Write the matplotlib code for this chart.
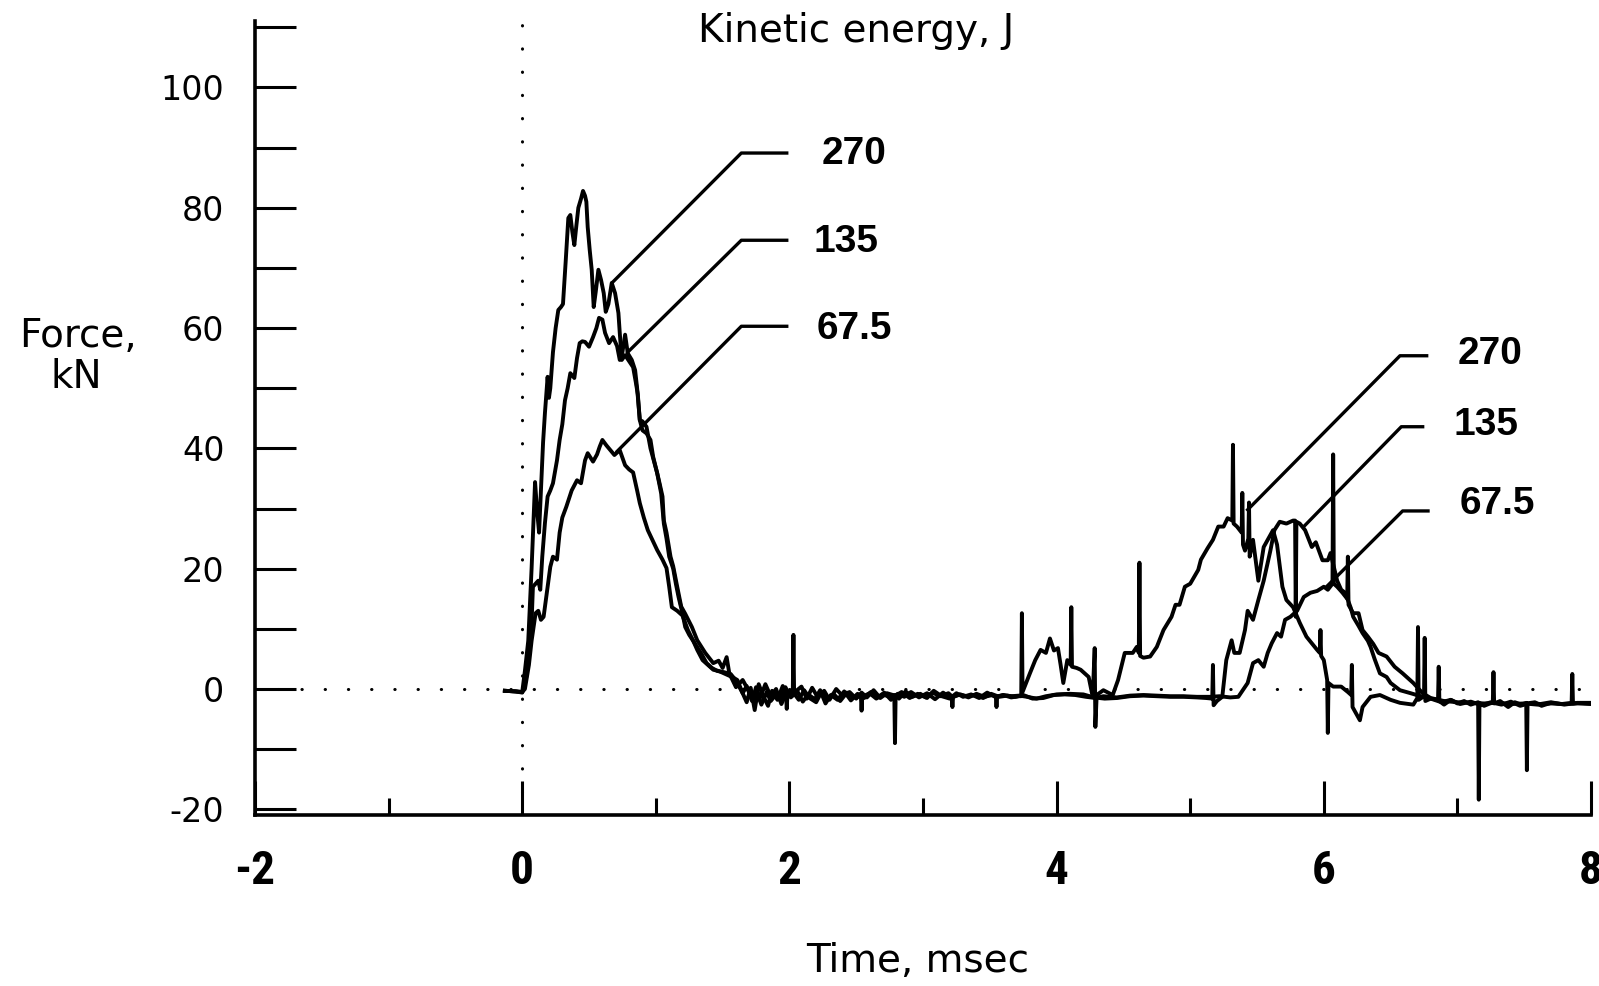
import matplotlib
matplotlib.use("Agg")
import matplotlib.pyplot as plt
from matplotlib.ticker import MultipleLocator

# force traces (kN) vs time (msec)
t270 = [-0.13, -0.05, 0.0, 0.02, 0.045, 0.07, 0.096, 0.11, 0.126, 0.14, 0.156, 0.17, 0.19, 0.2, 0.21,
        0.23, 0.25, 0.27, 0.29, 0.305, 0.325, 0.345, 0.36, 0.375, 0.39, 0.405, 0.42, 0.44, 0.455, 0.47,
        0.48, 0.49, 0.505, 0.52, 0.535, 0.55, 0.57, 0.59, 0.61, 0.625, 0.645, 0.67, 0.695, 0.72, 0.73,
        0.745, 0.77, 0.8, 0.83, 0.85, 0.865, 0.88, 0.9, 0.93, 0.96, 0.99, 1.01, 1.04, 1.06, 1.08, 1.1,
        1.13, 1.15, 1.17, 1.2, 1.22, 1.25, 1.28, 1.31, 1.35, 1.39, 1.43, 1.47, 1.52, 1.57, 1.61, 1.65,
        1.68, 1.72, 1.75, 1.78, 1.82, 1.86, 1.9, 1.94, 1.98, 2.025, 2.03, 2.035, 2.09, 2.13, 2.17, 2.21,
        2.26, 2.3, 2.35, 2.4, 2.45, 2.5, 2.54, 2.58, 2.63, 2.68, 2.73, 2.79, 2.82, 2.87, 2.92, 2.98,
        3.03, 3.08, 3.14, 3.2, 3.25, 3.3, 3.36, 3.42, 3.48, 3.54, 3.6, 3.66, 3.72, 3.735, 3.74, 3.745,
        3.8, 3.84, 3.88, 3.92, 3.95, 3.98, 4.01, 4.03, 4.05, 4.08, 4.105, 4.11, 4.115, 4.15, 4.18, 4.24,
        4.27, 4.285, 4.29, 4.3, 4.35, 4.42, 4.46, 4.51, 4.57, 4.6, 4.615, 4.62, 4.625, 4.65, 4.7, 4.75,
        4.8, 4.86, 4.89, 4.92, 4.96, 5.0, 5.06, 5.08, 5.13, 5.17, 5.21, 5.25, 5.28, 5.315, 5.32, 5.325,
        5.35, 5.385, 5.39, 5.395, 5.41, 5.435, 5.44, 5.445, 5.47, 5.51, 5.55, 5.58, 5.62, 5.65, 5.69,
        5.72, 5.77, 5.82, 5.87, 5.95, 5.97, 5.975, 5.98, 6.0, 6.025, 6.03, 6.035, 6.07, 6.13, 6.18,
        6.205, 6.21, 6.215, 6.24, 6.27, 6.29, 6.35, 6.42, 6.5, 6.57, 6.67, 6.7, 6.705, 6.71, 6.75,
        6.755, 6.76, 6.8, 6.855, 6.86, 6.865, 6.9, 6.95, 7.0, 7.05, 7.1, 7.155, 7.16, 7.165, 7.2,
        7.265, 7.27, 7.275, 7.32, 7.38, 7.43, 7.48, 7.515, 7.52, 7.525, 7.58, 7.63, 7.7, 7.78, 7.855,
        7.86, 7.865, 7.92, 8.0]
f270 = [-0.3, -0.4, -0.5, 3, 8, 20, 34.4, 30, 26, 33, 41, 45.9, 51.9, 48.4, 50,
        56, 60, 63, 63.5, 64, 71, 78.3, 78.8, 76, 73.8, 77, 80, 81.5, 82.8, 82,
        81, 76.8, 73, 69.7, 63.5, 66, 69.7, 68, 65.8, 62.7, 64, 67.5, 65.8, 62.5, 59.2,
        54.7, 55.5, 54.5, 53.5, 51, 49, 44.7, 44.5, 43.6, 40, 37.5, 35.9, 32.5, 27.5, 25, 22,
        20, 17.5, 15.3, 12.5, 10.3, 9, 8, 6.5, 4.8, 4, 3.2, 3, 2.5, 2, 1.5, -0.7,
        0.5, -2, 0.3, -1.5, 0.8, -1.2, 0, -2.5, -0.5, -0.8, 9, -0.6, 0.4, -1.6, 0.2, -1.3,
        -0.3, -1.8, 0, -1.2, -0.5, -1.6, -0.6, -1.4, -0.2, -1.5, -0.7, -1.1, -1.6, -0.4, -1.3, -0.8,
        -1.5, -0.3, -1.2, -1.6, -0.7, -1.3, -0.9, -1.5, -0.6, -1.3, -1.0, -1.4, -1.2, -1.2, 12.6, -0.5,
        2.6, 4.8, 6.5, 6, 8.4, 6.4, 6.8, 4, 1, 4.8, 4, 13.6, 3.7, 3.5, 3.2, 2,
        -1.3, 6.8, -6.3, -1, -0.2, -1, 1.5, 6, 6, 7, 6, 21, 5.5, 5.2, 5.4, 7,
        9.8, 12, 14, 14, 17, 17.5, 19.8, 21.5, 23.4, 24.8, 27, 27, 28.4, 28, 40.6, 27.5,
        27, 26, 32.6, 24, 23, 25, 31, 22, 24.8, 18, 23.6, 24.8, 26.4, 24, 17,
        14.8, 13.6, 11, 8.7, 6.5, 6, 9.8, 5.5, 4.8, 1.5, -7.3, 1, 0.4, 0.4, -0.5,
        -1, 4, -3, -4, -5.2, -3, -1.3, -1, -1.8, -2.3, -2.6, -1.5, 10.3, -1.8, -1.2,
        8.5, -2, -1.6, -1.8, 3.7, -2, -2.6, -1.8, -2.4, -2.0, -2.6, -2.2, -18.4, -2.3, -2.8,
        -2.2, 2.8, -2.4, -2.0, -3.0, -2.2, -2.6, -2.3, -13.5, -2.4, -2.2, -2.8, -2.3, -2.5, -2.3,
        2.5, -2.4, -2.3, -2.3]

t135 = [-0.13, -0.05, 0.0, 0.03, 0.07, 0.08, 0.1, 0.12, 0.135, 0.15, 0.17, 0.19, 0.21, 0.23, 0.26,
        0.28, 0.3, 0.32, 0.34, 0.36, 0.39, 0.41, 0.43, 0.45, 0.47, 0.5, 0.53, 0.555, 0.575, 0.6,
        0.62, 0.65, 0.68, 0.71, 0.73, 0.75, 0.77, 0.79, 0.82, 0.845, 0.86, 0.88, 0.9, 0.93, 0.96,
        0.98, 1.01, 1.03, 1.05, 1.06, 1.08, 1.11, 1.13, 1.16, 1.19, 1.22, 1.27, 1.31, 1.37, 1.43,
        1.47, 1.5, 1.53, 1.55, 1.6, 1.65, 1.7, 1.74, 1.77, 1.8, 1.84, 1.87, 1.91, 1.95, 1.975, 1.98,
        1.985, 2.02, 2.07, 2.11, 2.15, 2.2, 2.24, 2.28, 2.33, 2.38, 2.43, 2.48, 2.535, 2.54, 2.545,
        2.6, 2.65, 2.7, 2.75, 2.785, 2.79, 2.795, 2.84, 2.9, 2.96, 3.02, 3.07, 3.13, 3.19, 3.215,
        3.22, 3.225, 3.28, 3.34, 3.4, 3.46, 3.52, 3.545, 3.55, 3.555, 3.6, 3.66, 3.72, 3.78, 3.85,
        3.92, 4.0, 4.1, 4.2, 4.28, 4.36, 4.45, 4.55, 4.65, 4.75, 4.85, 4.95, 5.05, 5.12, 5.165,
        5.17, 5.175, 5.2, 5.24, 5.27, 5.31, 5.33, 5.37, 5.41, 5.43, 5.47, 5.51, 5.55, 5.58, 5.6,
        5.63, 5.67, 5.72, 5.77, 5.785, 5.79, 5.795, 5.82, 5.86, 5.91, 5.94, 5.99, 6.03, 6.05, 6.1,
        6.13, 6.16, 6.2, 6.22, 6.26, 6.29, 6.33, 6.35, 6.38, 6.42, 6.47, 6.5, 6.57, 6.65, 6.74,
        6.8, 6.88, 6.95, 7.02, 7.1, 7.18, 7.25, 7.33, 7.4, 7.47, 7.55, 7.62, 7.7, 7.8, 7.9, 8.0]
f135 = [-0.3, -0.4, -0.6, 2, 11, 17, 17.5, 18, 16.5, 22, 27.6, 32, 33, 34.2, 38,
        41.4, 44, 48, 50, 52.5, 51.7, 55, 57.5, 57.8, 57.7, 56.9, 58.5, 60, 61.7, 61.4,
        59.2, 57.5, 58.5, 57, 54.7, 56, 58.9, 55.8, 54.7, 53, 50, 44.7, 43, 42.5, 41.4,
        38.6, 35.9, 34, 32, 28, 26, 22, 20.4, 17, 13.7, 12.5, 10.3, 8.1, 6, 4.3,
        4.7, 3.5, 5.3, 2.6, 0.3, 1.5, -0.5, -2.5, 0.8, -1, -2.8, -0.3, -1.8, 0.5, -1, -3.3,
        -1, -0.3, -1.8, -0.2, -1.5, -2.2, -0.5, -1.7, -0.8, -2.0, -0.6, -1.4, -1.2, -3.6, -1.3,
        -0.7, -1.6, -0.9, -1.3, -1.0, -9, -1.1, -0.5, -1.5, -0.8, -1.4, -0.6, -1.2, -0.7, -1.2,
        -3, -1.3, -0.9, -1.4, -0.8, -1.3, -1.0, -1.3, -3, -1.3, -1.0, -1.2, -1.1, -1.3, -1.6,
        -1.2, -0.9, -0.8, -0.9, -1.4, -1.6, -1.5, -1.2, -1.1, -1.2, -1.3, -1.3, -1.4, -1.5, -1.6,
        4, -2.7, -2, -1.3, 4.8, 8.1, 6, 6, 9.8, 13, 11.5, 14.8, 18, 21, 23,
        26.4, 27.8, 27.5, 28, 28, 12, 27.8, 27.5, 26.4, 23.6, 24.4, 21.4, 21.4, 22.6, 18,
        16.5, 16, 13.6, 12, 10.5, 9.3, 8, 7, 5, 2.6, 2, 1, -0.2, -0.7, -1.3,
        -1.6, -2.2, -1.8, -2.5, -2.1, -2.7, -2.2, -2.6, -2.1, -2.8, -2.3, -2.5, -2.2, -2.6, -2.3, -2.4]

t675 = [-0.13, -0.05, 0.0, 0.02, 0.05, 0.07, 0.1, 0.12, 0.14, 0.16, 0.18, 0.21, 0.23, 0.26, 0.28,
        0.3, 0.33, 0.37, 0.41, 0.44, 0.47, 0.49, 0.53, 0.56, 0.58, 0.6, 0.63, 0.66, 0.69, 0.73,
        0.77, 0.8, 0.83, 0.86, 0.88, 0.91, 0.94, 0.97, 1.01, 1.05, 1.08, 1.1, 1.12, 1.16, 1.2,
        1.24, 1.28, 1.34, 1.38, 1.42, 1.46, 1.51, 1.56, 1.6, 1.65, 1.68, 1.71, 1.74, 1.76, 1.79,
        1.83, 1.86, 1.9, 1.93, 1.97, 2.01, 2.06, 2.1, 2.14, 2.19, 2.23, 2.27, 2.31, 2.36, 2.41,
        2.46, 2.51, 2.56, 2.61, 2.66, 2.71, 2.76, 2.81, 2.86, 2.91, 2.97, 3.03, 3.09, 3.15, 3.21,
        3.27, 3.33, 3.39, 3.45, 3.51, 3.57, 3.63, 3.69, 3.75, 3.82, 3.9, 3.98, 4.06, 4.14, 4.22,
        4.29, 4.35, 4.45, 4.55, 4.65, 4.75, 4.85, 4.95, 5.05, 5.15, 5.22, 5.3, 5.36, 5.43, 5.47,
        5.51, 5.55, 5.58, 5.61, 5.65, 5.68, 5.71, 5.75, 5.8, 5.85, 5.9, 5.95, 6.0, 6.03, 6.065,
        6.07, 6.075, 6.1, 6.14, 6.175, 6.18, 6.185, 6.22, 6.26, 6.29, 6.33, 6.37, 6.41, 6.47, 6.53,
        6.59, 6.67, 6.74, 6.8, 6.9, 7.0, 7.1, 7.2, 7.3, 7.4, 7.5, 7.6, 7.7, 7.8, 7.9, 8.0]
f675 = [-0.3, -0.4, -0.5, 0, 4, 8, 12.6, 13, 11.5, 12, 15.3, 20.3, 22, 21.5, 26,
        28.5, 30.3, 33, 34.7, 34.2, 38, 39.2, 37.8, 39, 40.3, 41.4, 40.5, 39.7, 38.9, 39.7,
        37.2, 36.5, 36, 33, 30.9, 28.5, 26.4, 25, 23.1, 21.5, 20.1, 17, 13.6, 13, 12.2,
        9.8, 8, 5.9, 4.3, 3.5, 3, 2.8, 2.5, 1.4, -0.7, -2.2, 0.2, -3.5, -0.8, -2.6,
        -0.5, -2, -0.9, -1.8, 0.3, -1.4, -0.4, -2.1, -0.9, -1.7, -0.2, -2.4, -1.0, -1.8, -0.4,
        -1.9, -0.8, -1.5, -0.5, -1.4, -0.6, -1.8, -0.8, -1.3, -0.5, -1.4, -0.7, -1.7, -0.6, -1.5,
        -0.9, -1.2, -1.0, -1.5, -0.8, -1.3, -1.1, -1.3, -1.0, -1.6, -1.5, -1.0, -0.9, -1.0, -1.3,
        -1.5, -1.2, -1.4, -1.1, -1.0, -1.1, -1.2, -1.2, -1.3, -1.3, -1.2, -1.4, -1.3, 1, 4.3,
        4.8, 3.7, 6, 7.6, 9.3, 8.7, 11.5, 12, 13, 15.3, 16, 16.3, 17, 16.5, 17.5,
        39, 17.5, 17, 16, 15, 22, 14, 12.6, 12.6, 9.8, 8.7, 7.5, 6, 5.4, 3.7,
        2.6, 1, -0.7, -1.5, -2, -2.2, -2.3, -2.4, -2.3, -2.5, -2.4, -2.6, -2.4, -2.5, -2.4, -2.5]

# leader labels: text anchor, elbow and the point on the trace
lab_text = ["270", "135", "67.5", "270", "135", "67.5"]
lab_x = [2.24, 2.18, 2.2, 7.0, 6.97, 7.02]
lab_y = [89.0, 74.3, 59.8, 55.7, 43.9, 30.8]
elbow_x = [1.64, 1.64, 1.64, 6.57, 6.58, 6.59]
end_x = [1.98, 1.98, 1.98, 6.77, 6.74, 6.78]
lead_y = [89.1, 74.6, 60.3, 55.4, 43.6, 29.6]
tip_x = [0.68, 0.79, 0.71, 5.43, 5.85, 6.02]
tip_y = [67.7, 56.0, 39.5, 29.8, 27.0, 17.0]

fig = plt.figure(figsize=(15.99, 9.86), dpi=100)
ax = fig.add_axes([0.1595, 0.1731, 0.8355, 0.8053])
ax.set_xlim(-2, 8)
ax.set_ylim(-21, 111)

dots = dict(color="black", lw=2.2, linestyle=(0, (0.1, 7.5)), dash_capstyle="round", zorder=1)
ax.axhline(0, **dots)
ax.axvline(0, **dots)

for t, f in [(t675, f675), (t135, f135), (t270, f270)]:
    ax.plot(t, f, color="black", lw=2.8, solid_joinstyle="round", zorder=3)

for i in range(len(lab_text)):
    ax.plot([tip_x[i], elbow_x[i], end_x[i]], [tip_y[i], lead_y[i], lead_y[i]],
            color="black", lw=2.4, zorder=3)
    ax.text(lab_x[i], lab_y[i], lab_text[i], fontsize=28, fontweight="bold",
            family=["Liberation Sans", "DejaVu Sans"], ha="left", va="center")

ax.text(2.5, 109.4, "Kinetic energy, J", fontsize=28, ha="center", va="center",
        family="DejaVu Sans", clip_on=False)

for side in ["top", "right"]:
    ax.spines[side].set_visible(False)
for side in ["left", "bottom"]:
    ax.spines[side].set_linewidth(2.6)

ax.xaxis.set_major_locator(MultipleLocator(2))
ax.xaxis.set_minor_locator(MultipleLocator(1))
ax.yaxis.set_major_locator(MultipleLocator(20))
ax.yaxis.set_minor_locator(MultipleLocator(10))
ax.tick_params(axis="x", which="major", direction="in", length=24.5, width=2.2, pad=24)
ax.tick_params(axis="x", which="minor", direction="in", length=12, width=2.2)
ax.tick_params(axis="y", which="both", direction="in", length=29.5, width=2.2, pad=22)

ax.set_yticks([-20, 0, 20, 40, 60, 80, 100])
ax.set_yticklabels(["-20", "0", "20", "40", "60", "80", "100"])
for lbl in ax.get_yticklabels():
    lbl.set_fontsize(24)
    lbl.set_family("DejaVu Sans")
ax.set_xticks([-2, 0, 2, 4, 6, 8])
ax.set_xticklabels(["-2", "0", "2", "4", "6", "8"])
for lbl in ax.get_xticklabels():
    lbl.set_fontsize(34)
    lbl.set_fontweight("bold")
    lbl.set_family(["Roboto Condensed", "Liberation Sans"])

fig.text(0.0488, 0.659, "Force,", fontsize=28, ha="center", va="center", family="DejaVu Sans")
fig.text(0.0478, 0.618, "kN", fontsize=28, ha="center", va="center", family="DejaVu Sans")
fig.text(0.574, 0.0254, "Time, msec", fontsize=28, ha="center", va="center", family="DejaVu Sans")

fig.savefig("out.png", dpi=100)
